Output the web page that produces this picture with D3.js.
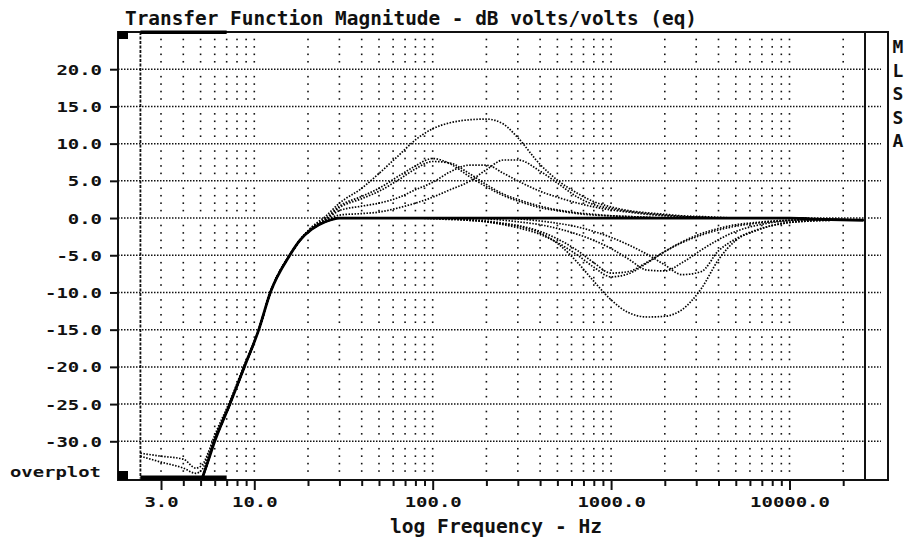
<!DOCTYPE html>
<html>
<head>
<meta charset="utf-8">
<script src="https://cdn.jsdelivr.net/npm/d3@7"></script>
<style>
body { margin: 0; background: #fff; }
text { font-family: "DejaVu Sans Mono", monospace; font-weight: bold; fill: #111; }
</style>
</head>
<body>
<div id="chart"></div>
<script>
var width = 909, height = 544;

var freqs = [2.3, 3, 4, 4.7, 5.1, 5.5, 6, 7.3, 8.8, 10.6, 12.3, 15.8, 18,
	21, 25, 30, 40, 50, 65, 80, 100,
	125, 160, 200, 250, 300, 400, 500, 650, 800, 1000,
	1250, 1600, 2000, 2500, 3200, 4000, 5000, 6500, 8000, 10000,
	13000, 17000, 26000];

// low end, 2.3 .. 18 Hz (dB)
var rolloff      = [null, null, null, null, -35, -32.7, -30, -25, -20, -15, -10, -5, -3];
var rolloffTail1 = [-31.6, -32.0, -32.4, -33.6, -33.2, -31.6, -29.2, -24.6, -19.7, -15, -10, -5, -3];
var rolloffTail2 = [-32.0, -32.8, -33.6, -34.3, -33.8, -31.9, -29.5, -24.8, -19.8, -15, -10, -5, -3];

// 21 Hz .. 26 kHz (dB)
var flat      = [-1.5,-0.5,0,0,0,0,0,0, 0,0,0,0,0,0,0,0,0,0, 0,0,0,0,0,0,0,0,0,0, -0.1,-0.2,-0.3];
var boostBig  = [-1.2,0.2,2.0,4.0,6.0,8.5,10.5,12.0, 12.8,13.2,13.3,12.6,10.8,7.2,5.1,3.3,2.2,1.5, 1.0,0.7,0.5,0.3,0.2,0.1,0,0,0,0, -0.1,-0.2,-0.3];
var cutBig    = [-1.5,-0.5,0,0,0,0,0,-0.1, -0.2,-0.3,-0.5,-0.8,-1.1,-2.0,-3.4,-6.0,-8.5,-11.0, -12.7,-13.3,-13.2,-12.3,-9.5,-5.6,-3.0,-1.7,-1.0,-0.6, -0.4,-0.3,-0.3];
var boost100a = [-1.3,-0.1,1.6,2.9,4.0,5.7,7.0,8.0, 7.3,5.6,4.2,3.0,2.3,1.4,1.0,0.6,0.4,0.3, 0.2,0.1,0,0,0,0,0,0,0,0, -0.1,-0.2,-0.3];
var boost100b = [-1.3,-0.2,1.4,2.6,3.6,5.2,6.6,7.6, 7.4,6.0,4.5,3.2,2.5,1.6,1.1,0.7,0.5,0.3, 0.2,0.1,0,0,0,0,0,0,0,0, -0.1,-0.2,-0.3];
var boost160  = [-1.4,-0.3,1.0,1.6,2.0,2.8,3.8,4.8, 6.2,7.1,7.1,6.0,5.0,3.6,2.8,2.0,1.5,1.1, 0.8,0.5,0.3,0.2,0.1,0,0,0,0,0, -0.1,-0.2,-0.3];
var boost280  = [-1.5,-0.4,0.4,0.6,0.8,1.4,2.0,2.8, 3.8,4.9,6.5,7.8,7.8,6.3,4.7,2.8,1.8,1.3, 0.9,0.6,0.4,0.2,0.1,0,0,0,0,0, -0.1,-0.2,-0.3];
var cut1000a  = [-1.5,-0.5,0,0,0,0,0,0, -0.1,-0.2,-0.4,-0.7,-1.0,-1.8,-2.8,-4.4,-6.0,-7.4, -7.2,-5.9,-4.5,-3.3,-2.3,-1.6,-1.1,-0.7,-0.5,-0.3, -0.2,-0.2,-0.3];
var cut1000b  = [-1.5,-0.5,0,0,0,0,0,0, -0.1,-0.3,-0.5,-0.9,-1.3,-2.2,-3.3,-5.0,-6.6,-7.9, -7.5,-6.0,-4.5,-3.2,-2.1,-1.4,-0.9,-0.6,-0.4,-0.3, -0.2,-0.2,-0.3];
var cut1700   = [-1.5,-0.5,0,0,0,0,0,0, 0,0,-0.1,-0.3,-0.5,-0.9,-1.4,-2.2,-3.0,-4.1, -5.5,-7.0,-7.1,-6.0,-4.3,-2.9,-1.8,-1.0,-0.6,-0.4, -0.3,-0.2,-0.3];
var cut2700   = [-1.5,-0.5,0,0,0,0,0,0, 0,0,0,0,-0.1,-0.4,-0.7,-1.2,-1.8,-2.6, -3.6,-4.9,-6.3,-7.6,-7.2,-4.4,-2.8,-1.6,-1.0,-0.6, -0.4,-0.3,-0.3];

var curves = [
	{low: rolloffTail1, high: boostBig},
	{low: rolloffTail2, high: cutBig},
	{low: rolloff, high: boost100a},
	{low: rolloff, high: boost100b},
	{low: rolloff, high: boost160},
	{low: rolloff, high: boost280},
	{low: rolloff, high: cut1000a},
	{low: rolloff, high: cut1000b},
	{low: rolloff, high: cut1700},
	{low: rolloff, high: cut2700},
	{low: rolloff, high: flat, solid: true}
];

// axes
var gridFreqs = [3,4,5,6,7,8,9,10,20,30,40,50,60,70,80,90,100,200,300,400,500,600,700,800,900,
	1000,2000,3000,4000,5000,6000,7000,8000,9000,10000,20000];
var labelFreqs = [3, 10, 100, 1000, 10000];
var labelTexts = ["3.0", "10.0", "100.0", "1000.0", "10000.0"];
var yTicks = [20, 15, 10, 5, 0, -5, -10, -15, -20, -25, -30];
var cursorRange = [2.3, 7];
var sideLetters = ["M", "L", "S", "S", "A"];

var charW = 11.4;

var svg = d3.select("#chart").append("svg")
	.attr("width", width)
	.attr("height", height);
svg.append("rect").attr("width", width).attr("height", height).attr("fill", "#fff");

var x = d3.scaleLog().domain([1.722, 26500]).range([118, 865]);
var y = d3.scaleLinear().domain([-35, 25]).range([478.5, 32]);

svg.append("clipPath").attr("id", "plotclip")
	.append("rect")
	.attr("x", x.range()[0]).attr("y", y.range()[1])
	.attr("width", x.range()[1] - x.range()[0])
	.attr("height", y.range()[0] - y.range()[1]);

// dotted grid: columns of dots at every dB
var dB = d3.range(-34, 25).filter(function(d){ return d % 5 != 0; });
svg.append("g").selectAll("rect")
	.data(d3.cross(gridFreqs, dB))
	.enter().append("rect")
	.attr("x", function(d){ return x(d[0]) - 0.8; })
	.attr("y", function(d){ return y(d[1]) - 0.8; })
	.attr("width", 1.6).attr("height", 1.6)
	.attr("fill", "#111");

// horizontal dotted lines every 5 dB
var hgrid = svg.append("g");
hgrid.selectAll("line.h")
	.data(yTicks).enter().append("line")
	.attr("x1", x.range()[0]).attr("x2", x.range()[1])
	.attr("y1", function(d){ return y(d); }).attr("y2", function(d){ return y(d); })
	.attr("stroke", "#111").attr("stroke-width", 1.5)
	.attr("stroke-dasharray", "1.5,1.5");
hgrid.selectAll("line.s")
	.data(yTicks).enter().append("line")
	.attr("x1", 868).attr("x2", 881)
	.attr("y1", function(d){ return y(d); }).attr("y2", function(d){ return y(d); })
	.attr("stroke", "#111").attr("stroke-width", 1.5)
	.attr("stroke-dasharray", "1.5,1.5");

// cursor line
svg.append("line")
	.attr("x1", x(cursorRange[0])).attr("x2", x(cursorRange[0]))
	.attr("y1", y(25)).attr("y2", y(-35))
	.attr("stroke", "#111").attr("stroke-width", 1.8)
	.attr("stroke-dasharray", "3,1.5");

// curves
var line = d3.line()
	.defined(function(d){ return d[1] != null; })
	.x(function(d){ return x(d[0]); })
	.y(function(d){ return y(d[1]); })
	.curve(d3.curveMonotoneX);

var cg = svg.append("g").attr("clip-path", "url(#plotclip)");
curves.forEach(function(c){
	var pts = freqs.map(function(f, i){ return [f, i < c.low.length ? c.low[i] : c.high[i - c.low.length]]; })
		.filter(function(p){ return p[1] != null; });
	var p = cg.append("path")
		.attr("d", line(pts))
		.attr("fill", "none")
		.attr("stroke", "#000");
	if (c.solid) {
		p.attr("stroke-width", 2.8);
	} else {
		p.attr("stroke-width", 1.7).attr("stroke-dasharray", "1.5,1.5");
	}
});

// frame
var frame = svg.append("g").attr("stroke", "#111").attr("stroke-width", 2).attr("fill", "none");
frame.append("path").attr("d", "M118,32 H888 V480 H118 Z");
frame.append("line").attr("x1", 865).attr("x2", 865).attr("y1", 32).attr("y2", 480);

// cursor markers
svg.append("rect").attr("x", 118).attr("y", 31).attr("width", 10).attr("height", 8).attr("fill", "#000");
svg.append("rect").attr("x", 118).attr("y", 471).attr("width", 10).attr("height", 9).attr("fill", "#000");
svg.append("rect").attr("x", x(cursorRange[0])).attr("y", 30.5)
	.attr("width", x(cursorRange[1]) - x(cursorRange[0])).attr("height", 3.5).attr("fill", "#000");
svg.append("rect").attr("x", x(cursorRange[0])).attr("y", 475.5)
	.attr("width", x(cursorRange[1]) - x(cursorRange[0])).attr("height", 4.5).attr("fill", "#000");

// x axis
var gx = svg.append("g")
	.attr("transform", "translate(0,480)")
	.call(d3.axisBottom(x).tickValues(gridFreqs).tickSizeOuter(0)
		.tickFormat(function(d){ var i = labelFreqs.indexOf(d); return i < 0 ? "" : labelTexts[i]; }));
gx.select(".domain").remove();
gx.selectAll(".tick line")
	.attr("stroke", "#111").attr("stroke-width", 2)
	.attr("y2", function(d){ return labelFreqs.indexOf(d) < 0 ? 6 : 10; });
gx.selectAll(".tick text")
	.attr("y", 27).attr("dy", null)
	.style("font-family", "DejaVu Sans Mono").style("font-weight", "bold").style("font-size", "14px")
	.attr("fill", "#111")
	.attr("textLength", function(){ return this.textContent.length * charW; })
	.attr("lengthAdjust", "spacingAndGlyphs");

// y axis
var gy = svg.append("g")
	.attr("transform", "translate(118,0)")
	.call(d3.axisLeft(y).tickValues(yTicks).tickSize(8).tickPadding(8)
		.tickFormat(function(d){ return d.toFixed(1); }));
gy.select(".domain").remove();
gy.selectAll(".tick line").attr("stroke", "#111").attr("stroke-width", 2);
gy.selectAll(".tick text")
	.attr("dy", "0.36em")
	.style("font-family", "DejaVu Sans Mono").style("font-weight", "bold").style("font-size", "14px")
	.attr("fill", "#111")
	.attr("textLength", function(){ return this.textContent.length * charW; })
	.attr("lengthAdjust", "spacingAndGlyphs");

// titles
svg.append("text")
	.attr("x", 125).attr("y", 25)
	.style("font-size", "19px")
	.attr("textLength", 572).attr("lengthAdjust", "spacingAndGlyphs")
	.text("Transfer Function Magnitude - dB volts/volts (eq)");

svg.append("text")
	.attr("x", 390).attr("y", 533)
	.style("font-size", "19px")
	.attr("textLength", 212).attr("lengthAdjust", "spacingAndGlyphs")
	.text("log Frequency - Hz");

svg.append("text")
	.attr("x", 10).attr("y", 477)
	.style("font-size", "14px")
	.attr("textLength", 91).attr("lengthAdjust", "spacingAndGlyphs")
	.text("overplot");

svg.append("g").selectAll("text")
	.data(sideLetters).enter().append("text")
	.attr("x", 898).attr("y", function(d, i){ return 53 + i * 23.5; })
	.attr("text-anchor", "middle")
	.style("font-size", "18px")
	.text(function(d){ return d; });
</script>
</body>
</html>
